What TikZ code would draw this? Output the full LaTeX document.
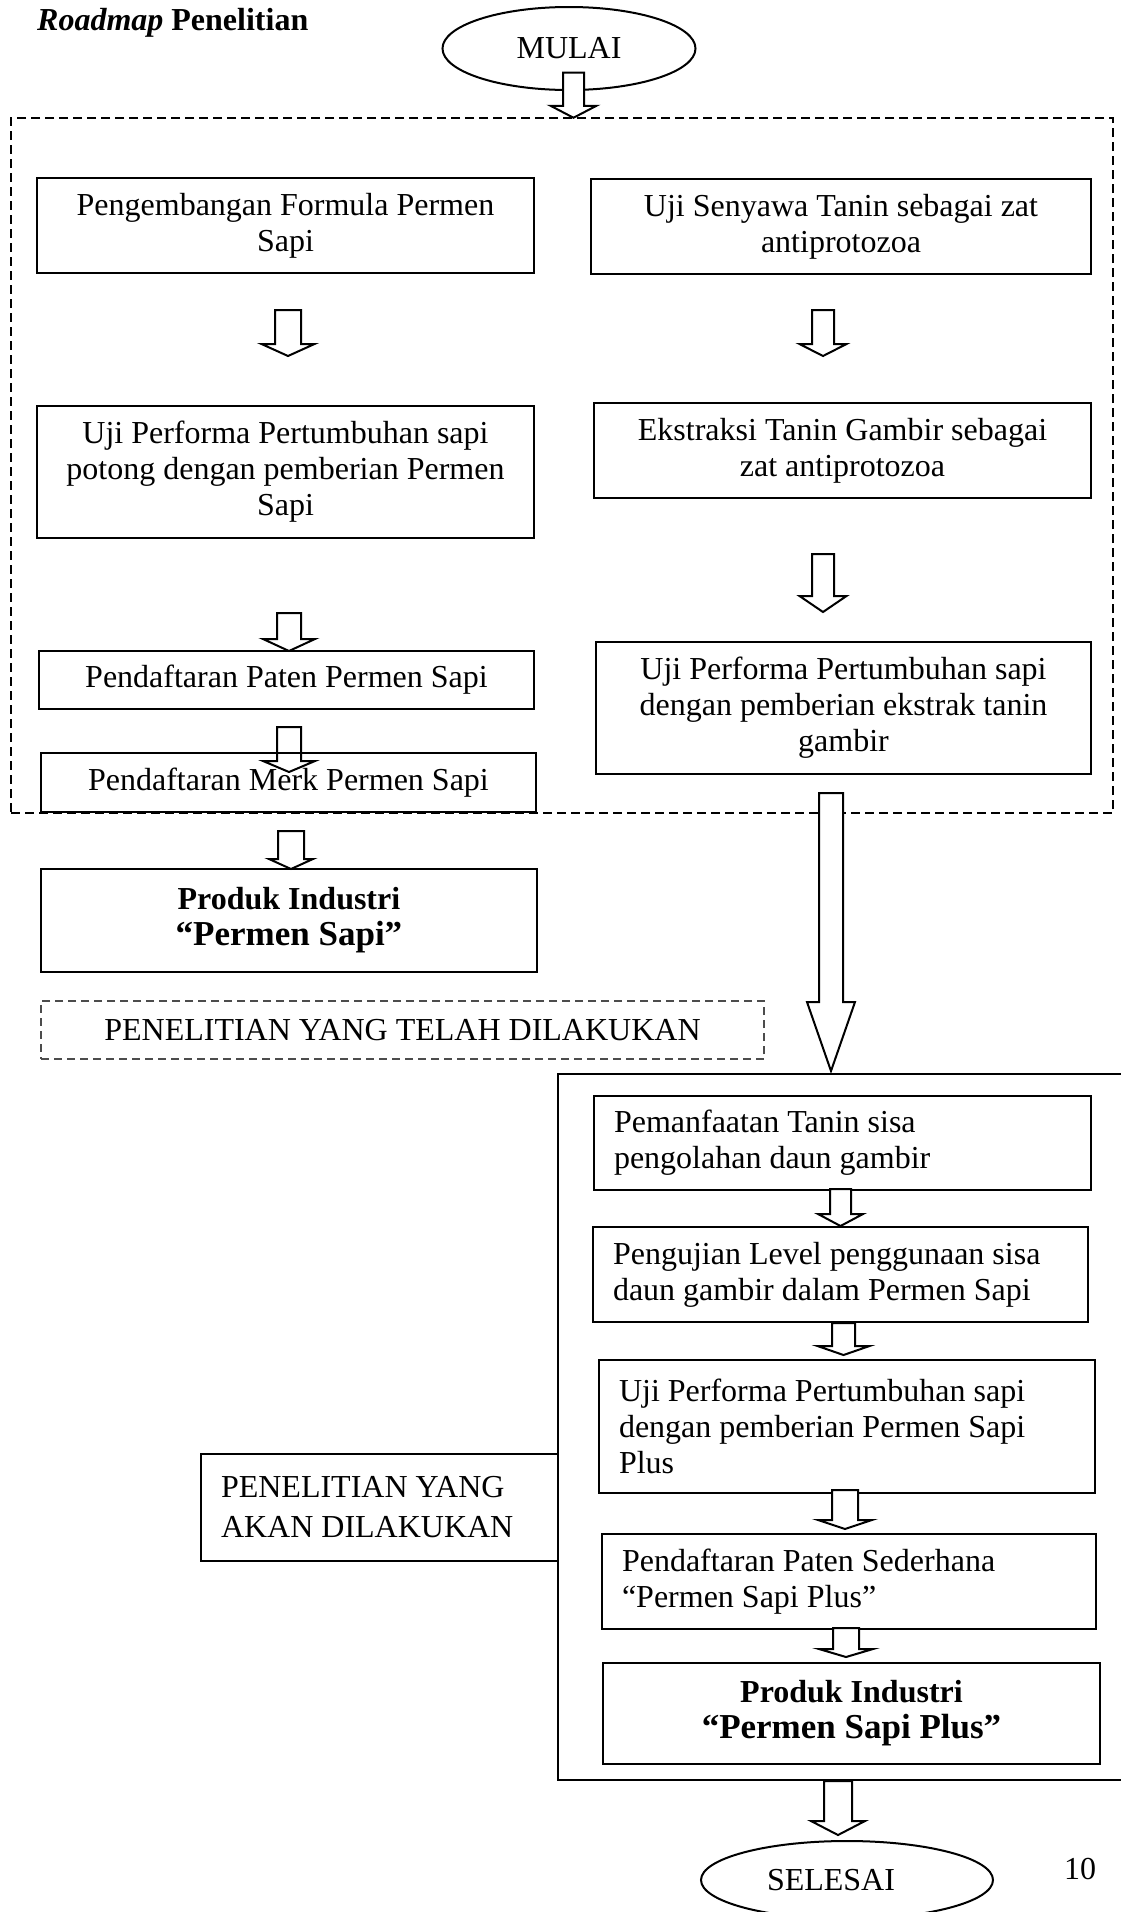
\documentclass[tikz,border=0pt]{standalone}
\usepackage{fontspec}
\setmainfont{Liberation Serif}
\usepackage{tikz}
\usetikzlibrary{calc, shapes.geometric}

\tikzset{
  every node/.style={font=\fontsize{32pt}{36pt}\selectfont},
  box/.style={draw, line width=2pt, rectangle, inner xsep=20pt, inner ysep=0pt, align=flush center},
  leftbox/.style={box, align=flush left},
  boldbox/.style={box, font=\fontsize{32pt}{36pt}\selectfont\bfseries},
  oval/.style={draw, line width=2pt, ellipse, inner sep=0pt},
  arrowline/.style={draw, line width=2pt, line join=miter},
}

\newcommand{\fatarrow}[9]{%
  \path ($(#1.south)+(#3,#4)$) coordinate (fa-top);
  \path ($(#2.north -| fa-top)+(0,{-1*(#5)})$) coordinate (fa-tip);
  \draw[arrowline, fill=#9] ($(fa-top)+(-#6,0)$) -- ($(fa-tip)+(-#6,-#8)$) -- ($(fa-tip)+(-#7,-#8)$)
    -- (fa-tip) -- ($(fa-tip)+(#7,-#8)$) -- ($(fa-tip)+(#6,-#8)$) -- ($(fa-top)+(#6,0)$) -- cycle;}

\begin{document}
\begin{tikzpicture}[x=1pt, y=-1pt]
\useasboundingbox (0,0) rectangle (1120,1912);

\node[anchor=base west, inner sep=0pt] (title) at (37,30) {\textbf{\textit{Roadmap} Penelitian}};
\node[oval, minimum width=253pt, minimum height=83pt] (mulai) at (569,48.5) {MULAI};

\node[draw, line width=2.5pt, dash pattern=on 9pt off 5pt, minimum width=1102pt, minimum height=695pt] (research) at (562,465.5) {};

\node[box, text width=457pt, minimum height=95pt] (a1) at (285.5,225.5) {Pengembangan Formula Permen\\Sapi};
\node[box, text width=460pt, minimum height=95pt] (b1) at (841,226.5) {Uji Senyawa Tanin sebagai zat\\antiprotozoa};
\node[box, text width=457pt, minimum height=132pt] (a2) at (285.5,472) {Uji Performa Pertumbuhan sapi\\potong dengan pemberian Permen\\Sapi};
\node[box, text width=457pt, minimum height=95pt] (b2) at (842.5,450.5) {Ekstraksi Tanin Gambir sebagai\\zat antiprotozoa};
\node[box, text width=455pt, minimum height=58pt] (a3) at (286.5,680) {Pendaftaran Paten Permen Sapi};
\node[box, text width=455pt, minimum height=132pt] (b3) at (843.5,708) {Uji Performa Pertumbuhan sapi\\dengan pemberian ekstrak tanin\\gambir};
\node[box, text width=455pt, minimum height=59pt] (a4) at (288.5,782.5) {Pendaftaran Merk Permen Sapi};
\node[boldbox, text width=456pt, minimum height=103pt] (p1) at (289,920.5) {Produk Industri\\{\fontsize{35pt}{41pt}\selectfont “Permen Sapi”}};

\node[box, line width=2pt, draw=black!70, dash pattern=on 8pt off 5pt, text width=683pt, minimum height=58pt] (done) at (402.5,1030) {PENELITIAN YANG TELAH DILAKUKAN};

\node[draw, line width=2pt, minimum width=572pt, minimum height=706pt] (plan) at (844,1427) {};
\node[leftbox, text width=317pt, minimum height=107pt] (next) at (379.5,1507.5) {PENELITIAN YANG\\[4pt]AKAN DILAKUKAN};

\node[leftbox, text width=457pt, minimum height=94pt] (c1) at (842.5,1143) {Pemanfaatan Tanin sisa\\pengolahan daun gambir};
\node[leftbox, text width=455pt, minimum height=95pt] (c2) at (840.5,1274.5) {Pengujian Level penggunaan sisa\\daun gambir dalam Permen Sapi};
\node[leftbox, text width=456pt, minimum height=133pt] (c3) at (847,1426.5) {Uji Performa Pertumbuhan sapi\\dengan pemberian Permen Sapi\\Plus};
\node[leftbox, text width=454pt, minimum height=95pt] (c4) at (849,1581.5) {Pendaftaran Paten Sederhana\\“Permen Sapi Plus”};
\node[boldbox, text width=457pt, minimum height=101pt] (c5) at (851.5,1713.5) {Produk Industri\\{\fontsize{35pt}{41pt}\selectfont “Permen Sapi Plus”}};

\node[oval, minimum width=292pt, minimum height=78pt] (selesai) at (847,1880) {SELESAI\hspace*{32pt}};
\node (num) at (1080,1869) {10};

\foreach \src/\dst/\dx/\gout/\gin/\sh/\hd/\len/\fl in {
    mulai/research/4.5/-18.5/-1/10.5/23/12/white,
    a1/a2/2.5/36/49/13/26.5/12/white,
    b1/b2/-18/35/46/11/23.5/12/white,
    a2/a3/3.5/74/-1/12/26/12/white,
    b2/b3/-19.5/55/29/11/23.5/16/white,
    a3/a4/2.5/17/-20/12/26/11/none,
    a4/p1/2.5/18/-1/13/22/10/white,
    b3/plan/-12.5/18/2/12/24/69/white,
    c1/c2/-2/-2/0/10.5/22.5/12/white,
    c2/c3/3/0/4/11.5/26/9/white,
    c3/c4/-2/-4/4/13/27/9/white,
    c4/c5/-3/-2/5/13/27/8/white,
    plan/selesai/-6/0/5/14/27/14/white}
{
    \fatarrow{\src}{\dst}{\dx}{\gout}{\gin}{\sh}{\hd}{\len}{\fl}
}

\end{tikzpicture}
\end{document}
